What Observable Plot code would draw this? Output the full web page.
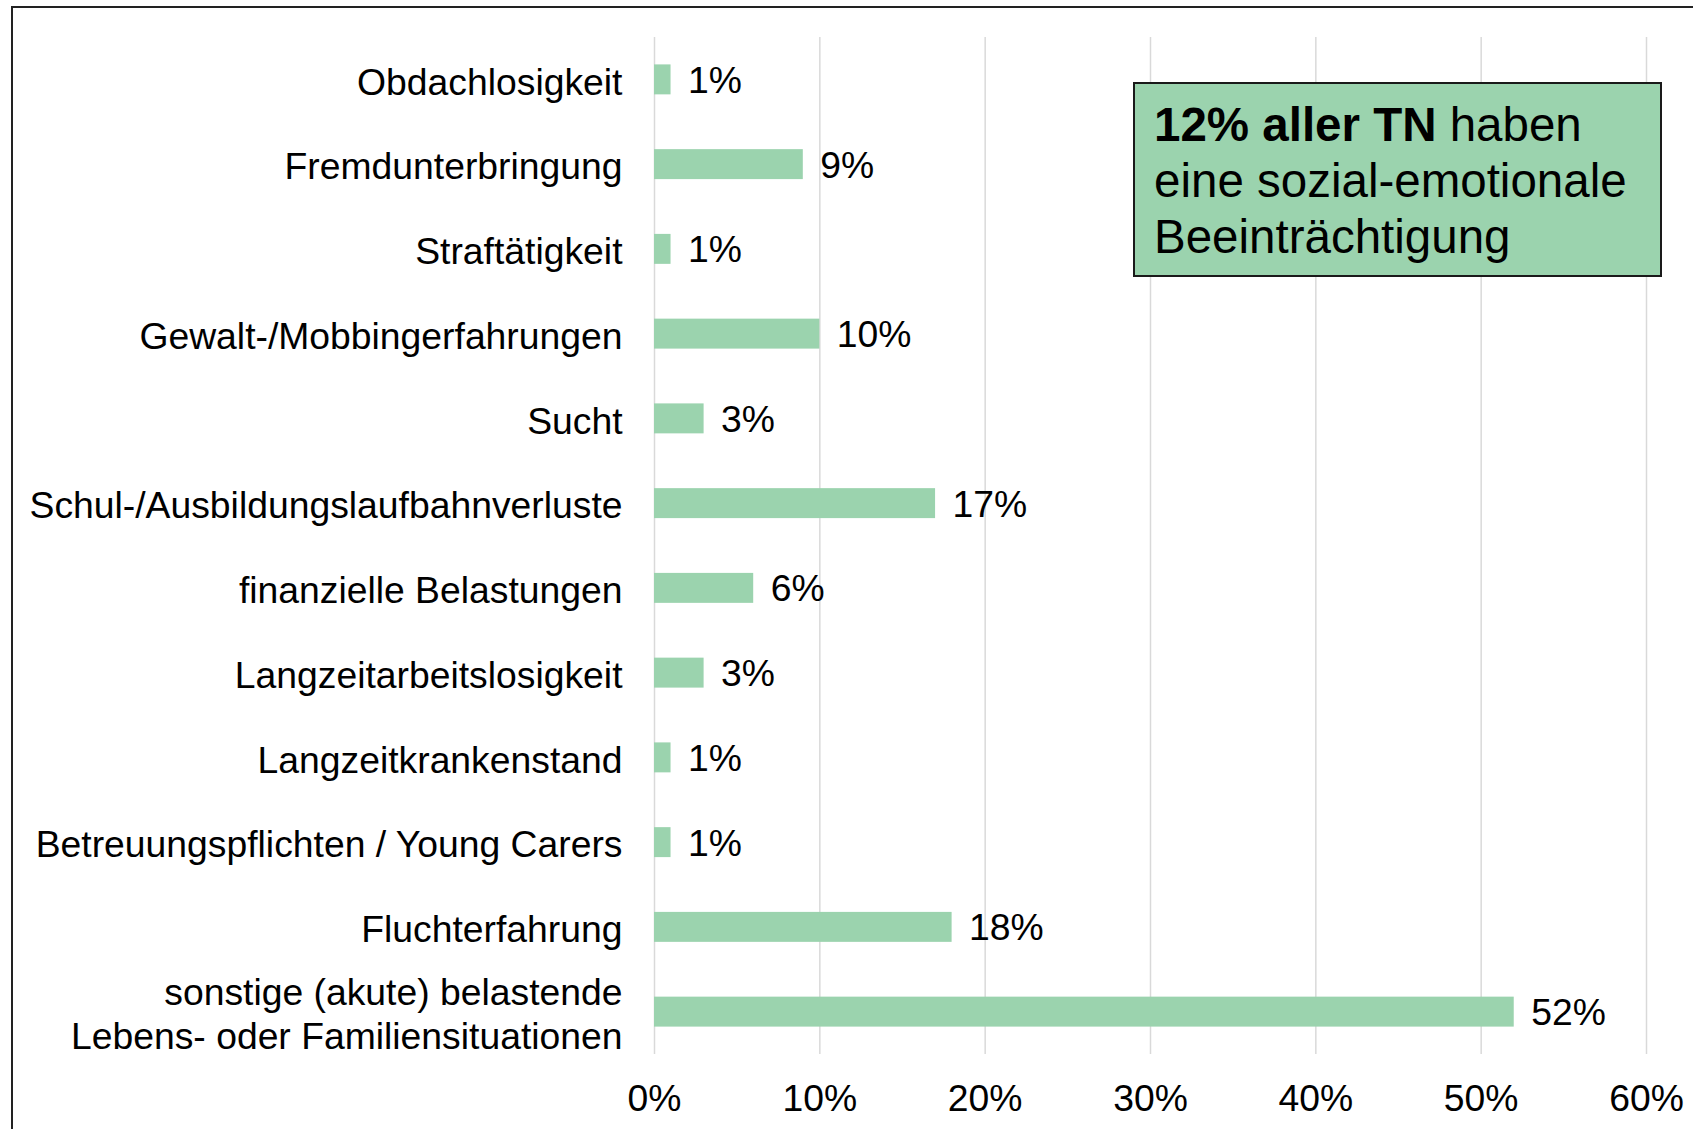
<!DOCTYPE html>
<html>
<head>
<meta charset="utf-8">
<script src="https://cdn.jsdelivr.net/npm/d3@7"></script>
<script src="https://cdn.jsdelivr.net/npm/@observablehq/plot@0.6"></script>
<style>
  html, body { margin: 0; padding: 0; background: #fff; }
  body { width: 1693px; height: 1129px; overflow: hidden; position: relative; font-family: "Liberation Sans", Arial, sans-serif; }
  #frame { position: absolute; left: 11px; top: 6px; width: 1720px; height: 1160px; border: 2px solid #222; box-sizing: border-box; pointer-events: none; }
  #chart { position: absolute; left: 0; top: 0; }
  #note { position: absolute; left: 1133px; top: 82px; width: 529px; height: 195px; box-sizing: border-box;
          border: 2px solid #1a1a1a; background: #9bd3ae; padding: 13px 0 0 19px;
          font-size: 47.5px; line-height: 56px; color: #000; white-space: nowrap; }
</style>
</head>
<body>
<div id="frame"></div>
<div id="chart"></div>
<div id="note"><b>12% aller TN</b> haben<br>eine sozial-emotionale<br>Beeinträchtigung</div>
<script>
const categories = [
  "Obdachlosigkeit",
  "Fremdunterbringung",
  "Straftätigkeit",
  "Gewalt-/Mobbingerfahrungen",
  "Sucht",
  "Schul-/Ausbildungslaufbahnverluste",
  "finanzielle Belastungen",
  "Langzeitarbeitslosigkeit",
  "Langzeitkrankenstand",
  "Betreuungspflichten / Young Carers",
  "Fluchterfahrung",
  "sonstige (akute) belastende\nLebens- oder Familiensituationen"
];
const values = [0.01, 0.09, 0.01, 0.10, 0.03, 0.17, 0.06, 0.03, 0.01, 0.01, 0.18, 0.52];
const valueLabels = ["1%", "9%", "1%", "10%", "3%", "17%", "6%", "3%", "1%", "1%", "18%", "52%"];
const xTicks = [0, 0.1, 0.2, 0.3, 0.4, 0.5, 0.6];
const xTickLabels = ["0%", "10%", "20%", "30%", "40%", "50%", "60%"];

const rows = categories.map((c, i) => ({category: c, value: values[i], label: valueLabels[i]}));

const chart = Plot.plot({
  width: 1693,
  height: 1129,
  marginLeft: 654,
  marginRight: 47,
  marginTop: 37,
  marginBottom: 75,
  style: {fontFamily: "'Liberation Sans', Arial, sans-serif", fontSize: "37px", background: "transparent", color: "#000"},
  x: {domain: [0, 0.6], axis: null},
  y: {domain: categories, paddingInner: 0.6465, paddingOuter: 0.32325, round: false, axis: null},
  marks: [
    Plot.ruleX(xTicks, {stroke: "#d9d9d9", strokeWidth: 1.5}),
    Plot.barX(rows, {x: "value", y: "category", fill: "#9bd3ae"}),
    Plot.text(rows, {x: "value", y: "category", text: "label", dx: 17, dy: 1, textAnchor: "start", fontSize: 37.3, fill: "#000"}),
    Plot.text(rows, {x: d => 0, y: "category", text: "category", dx: -32, dy: 1, textAnchor: "end", fontSize: 37.3, lineHeight: 1.16, fill: "#000"}),
    Plot.text(xTicks, {x: d => d, frameAnchor: "bottom", text: (d, i) => xTickLabels[i], dy: 56, fontSize: 37.3, fill: "#000"})
  ]
});
document.getElementById("chart").appendChild(chart);
</script>
</body>
</html>
